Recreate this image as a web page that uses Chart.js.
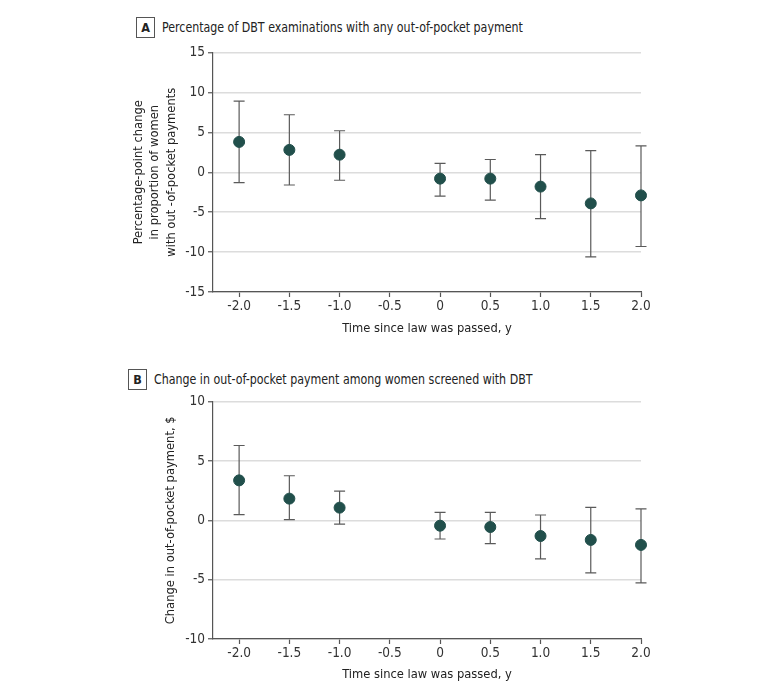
<!DOCTYPE html>
<html>
<head>
<meta charset="utf-8">
<script src="https://cdn.jsdelivr.net/npm/chart.js@4"></script>
<style>
  body { margin: 0; background: #fff; width: 780px; height: 695px; position: relative; overflow: hidden;
         font-family: "DejaVu Sans Condensed", "DejaVu Sans", sans-serif; color: #222; }
  .panel { position: absolute; left: 0; width: 780px; }
  .head { position: absolute; font-size: 13.5px; line-height: 21px; white-space: nowrap; }
  .head .txt { display: inline-block; transform: scaleX(0.91); transform-origin: left center; vertical-align: middle; }
  .tag { display: inline-block; width: 17px; height: 19px; border: 1px solid #555; text-align: center;
         font-weight: bold; font-size: 12.5px; line-height: 19px; margin-right: 7px; vertical-align: middle; }
</style>
</head>
<body>
<div class="head" style="left:136px; top:16px;"><span class="tag">A</span><span class="txt">Percentage of DBT examinations with any out-of-pocket payment</span></div>
<div class="panel" style="top:0; height:345px;"><canvas id="chartA" width="780" height="345"></canvas></div>
<div class="head" style="left:128px; top:368px;"><span class="tag">B</span><span class="txt">Change in out-of-pocket payment among women screened with DBT</span></div>
<div class="panel" style="top:345px; height:350px;"><canvas id="chartB" width="780" height="350"></canvas></div>

<script>
// ===== data =====
const years = [-2.0, -1.5, -1.0, 0, 0.5, 1.0, 1.5, 2.0];
const xTicks = [-2.0, -1.5, -1.0, -0.5, 0, 0.5, 1.0, 1.5, 2.0];
const xTickLabels = ["-2.0", "-1.5", "-1.0", "-0.5", "0", "0.5", "1.0", "1.5", "2.0"];

// panel A: percentage-point change
const pctEstimate = [3.8, 2.8, 2.2, -0.8, -0.8, -1.8, -3.9, -2.9];
const pctUpper    = [8.9, 7.2, 5.2, 1.1, 1.6, 2.2, 2.7, 3.3];
const pctLower    = [-1.3, -1.6, -1.0, -3.0, -3.5, -5.8, -10.6, -9.3];
const pctTicks    = [-15, -10, -5, 0, 5, 10, 15];

// panel B: change in dollars
const payEstimate = [3.37, 1.83, 1.07, -0.45, -0.56, -1.32, -1.65, -2.07];
const payUpper    = [6.31, 3.76, 2.47, 0.67, 0.67, 0.45, 1.09, 0.96];
const payLower    = [0.48, 0.06, -0.31, -1.57, -1.96, -3.25, -4.43, -5.27];
const payTicks    = [-10, -5, 0, 5, 10];

// ===== plugins =====
const errorBars = {
    id: 'errorBars',
    beforeDatasetsDraw(chart, args, opts) {
        const ctx = chart.ctx;
        const xs = chart.scales.x, ys = chart.scales.y;
        ctx.save();
        ctx.strokeStyle = '#5a5a5a';
        ctx.lineWidth = 1.2;
        years.forEach((yr, i) => {
            const x = xs.getPixelForValue(yr);
            const top = ys.getPixelForValue(opts.upper[i]);
            const bot = ys.getPixelForValue(opts.lower[i]);
            ctx.beginPath();
            ctx.moveTo(x, top); ctx.lineTo(x, bot);
            ctx.moveTo(x - 5.5, top); ctx.lineTo(x + 5.5, top);
            ctx.moveTo(x - 5.5, bot); ctx.lineTo(x + 5.5, bot);
            ctx.stroke();
        });
        ctx.restore();
    }
};

// ===== helpers =====
const FONT = '"DejaVu Sans Condensed", "DejaVu Sans", sans-serif';

function makePanel(id, est, lower, upper, yTicks, yTitle, o) {
    return new Chart(document.getElementById(id), {
        type: 'scatter',
        data: {
            datasets: [{
                data: years.map((x, i) => ({ x: x, y: est[i] })),
                backgroundColor: '#214f4b',
                borderColor: '#214f4b',
                pointRadius: 5.5,
                clip: false
            }]
        },
        plugins: [errorBars],
        options: {
            responsive: false,
            animation: false,
            events: [],
            layout: { padding: { left: 0, right: 139, top: o.top, bottom: o.bottom } },
            plugins: {
                legend: { display: false },
                tooltip: { enabled: false },
                errorBars: { lower: lower, upper: upper }
            },
            scales: {
                x: {
                    type: 'linear',
                    min: -2.26, max: 2.0,
                    afterBuildTicks: s => { s.ticks = xTicks.map(v => ({ value: v })); },
                    afterFit: s => { s.height = 50; },
                    border: { color: '#555', width: 1.2 },
                    grid: { drawOnChartArea: false, tickColor: '#555', tickLength: 5, tickWidth: 1.2 },
                    ticks: {
                        color: '#333', font: { family: FONT, size: 13.5 }, padding: 1.5,
                        callback: (v) => xTickLabels[xTicks.indexOf(v)]
                    },
                    title: {
                        display: true, text: 'Time since law was passed, y', color: '#222',
                        font: { family: FONT, size: 12.8, lineHeight: 1.2 }, padding: { top: 0, bottom: o.xTitlePad }
                    }
                },
                y: {
                    type: 'linear',
                    min: yTicks[0], max: yTicks[yTicks.length - 1],
                    afterBuildTicks: s => { s.ticks = yTicks.map(v => ({ value: v })); },
                    afterFit: s => { s.width = 213; },
                    border: { color: '#555', width: 1.2 },
                    grid: { color: '#dcdcdc', lineWidth: 1.5, tickColor: '#555', tickLength: 5, tickWidth: 1.2 },
                    ticks: {
                        color: '#333', font: { family: FONT, size: 13.5 }, padding: 3,
                        callback: (v) => String(v)
                    },
                    title: {
                        display: true, text: yTitle, color: '#222',
                        font: { family: FONT, size: 12.8, lineHeight: 1.3 }, padding: { top: o.yTitlePad, bottom: 0 }
                    }
                }
            }
        }
    });
}

makePanel('chartA', pctEstimate, pctLower, pctUpper, pctTicks,
    ['Percentage-point change', 'in proportion of women', 'with out -of-pocket payments'],
    { top: 52.5, bottom: 3, xTitlePad: 5.3, yTitlePad: 130 });

makePanel('chartB', payEstimate, payLower, payUpper, payTicks,
    'Change in out-of-pocket payment, $',
    { top: 56.7, bottom: 6, xTitlePad: 6.5, yTitlePad: 162 });
</script>
</body>
</html>
